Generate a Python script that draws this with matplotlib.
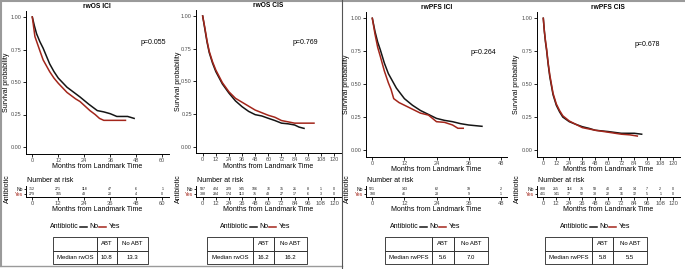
import numpy as np
import matplotlib
matplotlib.use("Agg")
import matplotlib.pyplot as plt
from matplotlib.lines import Line2D

plt.rcParams['font.family'] = ['Liberation Sans', 'DejaVu Sans']

W, H = 685, 269

# ---- data ----
titles = ["rwOS ICI", "rwOS CIS", "rwPFS ICI", "rwPFS CIS"]
pvals = ["p=0.055", "p=0.769", "p=0.264", "p=0.678"]
xmax = [60, 120, 48, 120]

os_ici_no_t = [0, 1, 2, 3.5, 5, 8, 10, 12, 16, 20, 22, 26, 30, 33, 36, 39, 44, 47]
os_ici_no_s = [1, 0.93, 0.87, 0.81, 0.76, 0.64, 0.58, 0.53, 0.46, 0.41, 0.385, 0.33, 0.28, 0.27, 0.256, 0.235, 0.235, 0.22]
os_ici_yes_t = [0, 1.2, 3.5, 5, 8, 10, 12, 16, 20, 22, 26.6, 29, 31, 33, 43]
os_ici_yes_s = [1, 0.85, 0.74, 0.67, 0.58, 0.53, 0.49, 0.42, 0.37, 0.35, 0.28, 0.25, 0.22, 0.205, 0.205]

os_cis_no_t = [0, 2, 4, 6, 9, 12, 18, 24, 30, 36, 42, 48, 54, 60, 66, 72, 78, 84, 88, 92.6]
os_cis_no_s = [1, 0.9, 0.8, 0.72, 0.64, 0.575, 0.48, 0.41, 0.35, 0.306, 0.27, 0.245, 0.235, 0.217, 0.2, 0.18, 0.175, 0.166, 0.15, 0.14]
os_cis_yes_t = [0, 2, 4, 6, 9, 12, 18, 24, 30, 36, 42, 48, 54, 60, 66, 72, 78, 84, 90, 96, 101.7]
os_cis_yes_s = [1, 0.91, 0.81, 0.73, 0.65, 0.587, 0.49, 0.42, 0.37, 0.34, 0.31, 0.28, 0.26, 0.24, 0.225, 0.2, 0.19, 0.18, 0.18, 0.18, 0.18]

pfs_ici_no_t = [0, 1, 2, 3, 4.5, 6, 9, 12, 15, 18, 21, 24, 27, 30, 33, 36, 41]
pfs_ici_no_s = [1, 0.9, 0.82, 0.76, 0.66, 0.58, 0.47, 0.39, 0.34, 0.3, 0.27, 0.24, 0.225, 0.215, 0.2, 0.19, 0.18]
pfs_ici_yes_t = [0, 1, 2, 3, 4.5, 6, 7, 8, 10, 12, 15, 18, 21, 24, 27, 30, 32, 34]
pfs_ici_yes_s = [1, 0.88, 0.78, 0.71, 0.6, 0.51, 0.46, 0.39, 0.36, 0.34, 0.31, 0.28, 0.265, 0.215, 0.21, 0.19, 0.165, 0.165]

pfs_cis_no_t = [0, 1, 2, 3, 4.5, 6, 9, 12, 15, 18, 24, 30, 36, 42, 48, 60, 72, 84, 90.8]
pfs_cis_no_s = [1, 0.9, 0.82, 0.76, 0.65, 0.556, 0.42, 0.34, 0.29, 0.25, 0.215, 0.195, 0.177, 0.165, 0.15, 0.14, 0.127, 0.127, 0.12]
pfs_cis_yes_t = [0, 1, 2, 3, 4.5, 6, 9, 12, 15, 18, 24, 30, 36, 42, 48, 60, 72, 80, 86.8]
pfs_cis_yes_s = [1, 0.9, 0.83, 0.77, 0.66, 0.57, 0.43, 0.35, 0.3, 0.26, 0.22, 0.195, 0.17, 0.16, 0.15, 0.135, 0.12, 0.115, 0.106]

risk_no = [
    [712, 271, 118, 47, 6, 1],
    [587, 424, 229, 145, 106, 76, 35, 21, 8, 1, 0],
    [521, 143, 62, 19, 2],
    [808, 215, 116, 75, 58, 40, 24, 14, 7, 2, 0],
]
risk_yes = [
    [279, 105, 43, 20, 4, 0],
    [388, 284, 174, 113, 75, 43, 27, 17, 6, 3, 0],
    [190, 46, 23, 9, 1],
    [401, 141, 77, 52, 38, 22, 16, 12, 5, 1, 0],
]
median_label = ["Median rwOS", "Median rwOS", "Median rwPFS", "Median rwPFS"]
median_abt = ["10.8", "16.2", "5.6", "5.8"]
median_noabt = ["13.3", "16.2", "7.0", "5.5"]

curves = [
    (os_ici_no_t, os_ici_no_s, os_ici_yes_t, os_ici_yes_s),
    (os_cis_no_t, os_cis_no_s, os_cis_yes_t, os_cis_yes_s),
    (pfs_ici_no_t, pfs_ici_no_s, pfs_ici_yes_t, pfs_ici_yes_s),
    (pfs_cis_no_t, pfs_cis_no_s, pfs_cis_yes_t, pfs_cis_yes_s),
]

BLACK = "#151515"
RED = "#a3261b"
GREY = "#4d4d4d"

# ---- layout (pixels) ----
ax_x = [(25.8, 168.8), (196.1, 340.6), (365.9, 507.1), (536.8, 679.8)]
ax_y = [(10.5, 153.5), (9.5, 153.2), (11.7, 156.6), (11.7, 156.6)]
pv_pos = [(153, 43), (305, 43), (483, 53), (647, 45)]
ylab_x = [7, 178, 347, 517]
leg_off = [0, 170, 340, 510]
tab_x = [(53, 148), (207, 307), (385, 488), (545, 647)]


def box(x0, y0, x1, y1):
    return [x0 / W, 1 - y1 / H, (x1 - x0) / W, (y1 - y0) / H]


def fx(x):
    return x / W


def fy(y):
    return 1 - y / H


fig = plt.figure(figsize=(W / 100, H / 100), dpi=100)

for i in range(4):
    x0, x1 = ax_x[i]
    y0, y1 = ax_y[i]
    xm = xmax[i]
    ax = fig.add_axes(box(x0, y0, x1, y1))
    nt, ns, yt, ys = curves[i]
    ax.plot(nt, ns, color=BLACK, lw=1.1)
    ax.plot(yt, ys, color=RED, lw=1.1)
    ax.set_xlim(-0.05 * xm, 1.05 * xm)
    ax.set_ylim(-0.05, 1.05)
    ax.set_xticks(np.arange(0, xm + 1, 12))
    ax.set_yticks([0, 0.25, 0.5, 0.75, 1.0])
    ax.set_yticklabels(["0.00", "0.25", "0.50", "0.75", "1.00"])
    for s in ["top", "right"]:
        ax.spines[s].set_visible(False)
    for s in ["left", "bottom"]:
        ax.spines[s].set_linewidth(0.7)
    ax.tick_params(labelsize=4.0, length=2, width=0.6, pad=1, labelcolor=GREY)
    ax.set_title(titles[i], fontsize=4.8, fontweight="bold", pad=2)
    ax.set_xlabel("Months from Landmark Time", fontsize=5, labelpad=0.5)
    fig.text(fx(ylab_x[i]), fy((y0 + y1) / 2), "Survival probability", rotation=90,
             fontsize=5, ha="center", va="center")
    fig.text(fx(pv_pos[i][0]), fy(pv_pos[i][1]), pvals[i], fontsize=5,
             ha="center", va="center")

    # number at risk table
    rx = fig.add_axes(box(x0, 186, x1, 196.5))
    ticks = np.arange(0, xm + 1, 12)
    for t, n in zip(ticks, risk_no[i]):
        rx.text(t, 2, str(n), fontsize=2.6, ha="center", va="center", color=BLACK)
    for t, n in zip(ticks, risk_yes[i]):
        rx.text(t, 1, str(n), fontsize=2.6, ha="center", va="center", color=BLACK)
    rx.set_xlim(-0.05 * xm, 1.05 * xm)
    rx.set_ylim(0.5, 2.5)
    rx.set_xticks(ticks)
    rx.set_yticks([1, 2])
    rx.set_yticklabels(["Yes", "No"])
    rx.get_yticklabels()[0].set_color(RED)
    rx.get_yticklabels()[1].set_color(BLACK)
    for s in ["top", "right"]:
        rx.spines[s].set_visible(False)
    for s in ["left", "bottom"]:
        rx.spines[s].set_linewidth(0.7)
    rx.tick_params(axis="x", labelsize=4.2, length=2, width=0.6, pad=1, labelcolor=GREY)
    rx.tick_params(axis="y", labelsize=3.6, length=1.5, width=0.6, pad=0.5)
    rx.set_xlabel("Months from Landmark Time", fontsize=5, labelpad=0.5)
    fig.text(fx(x0 + 1), fy(180), "Number at risk", fontsize=5, ha="left", va="center")
    fig.text(fx(ylab_x[i]), fy(189), "Antibiotic", rotation=90, fontsize=5,
             ha="center", va="center")

    # legend
    o = leg_off[i]
    ly = fy(227)
    fig.text(fx(50 + o), ly, "Antibiotic", fontsize=5, ha="left", va="center")
    fig.add_artist(Line2D([fx(80 + o), fx(87 + o)], [ly, ly], color=BLACK, lw=1.1))
    fig.text(fx(89 + o), ly, "No", fontsize=5, ha="left", va="center")
    fig.add_artist(Line2D([fx(99 + o), fx(106 + o)], [ly, ly], color=RED, lw=1.1))
    fig.text(fx(108.5 + o), ly, "Yes", fontsize=5, ha="left", va="center")

    # median table
    tx0, tx1 = tab_x[i]
    tax = fig.add_axes(box(tx0, 237, tx1, 264))
    tax.axis("off")
    tb = tax.table(cellText=[["", "ABT", "No ABT"],
                             [median_label[i], median_abt[i], median_noabt[i]]],
                   colWidths=[0.46, 0.21, 0.33], cellLoc="center",
                   bbox=[0, 0, 1, 1])
    tb.auto_set_font_size(False)
    for (r, c), cell in tb.get_celld().items():
        cell.set_linewidth(0.6)
        cell.set_fontsize(4.3)
        cell.set_edgecolor("#222222")

# panel borders
bc = "#9a9a9a"
fig.add_artist(Line2D([0, 1], [fy(1), fy(1)], color=bc, lw=1.5))
fig.add_artist(Line2D([fx(1), fx(1)], [fy(0), fy(266)], color=bc, lw=1.5))
fig.add_artist(Line2D([0, fx(342)], [fy(265.5), fy(265.5)], color=bc, lw=1.0))
fig.add_artist(Line2D([fx(342), fx(342)], [fy(0), fy(269)], color="#555555", lw=0.8))

fig.savefig("out.png", dpi=100)
